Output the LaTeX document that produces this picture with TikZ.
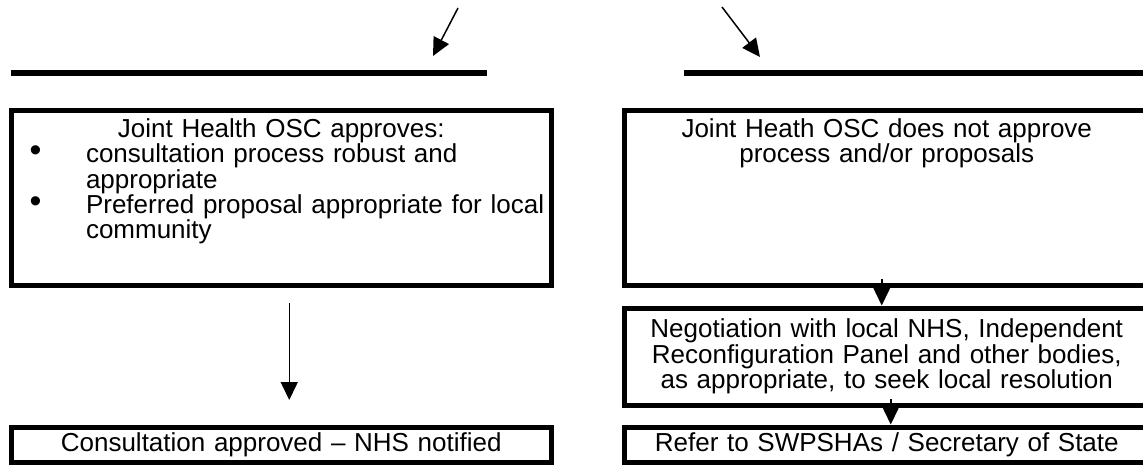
\documentclass[tikz,border=0pt]{standalone}
\usepackage{fontspec}
\setmainfont{Liberation Sans}
\usetikzlibrary{arrows.meta}
\usetikzlibrary{positioning}

\newcommand{\itembul}[1]{\makebox[74.5pt][l]{\hspace{18pt}\raisebox{1pt}{\scalebox{1.3}{\textbullet}}}\parbox[t]{460pt}{#1}}

\begin{document}
\begin{tikzpicture}[x=1pt,y=-1pt,
  box/.style={draw,line width=5pt,inner sep=0pt,outer sep=0pt,anchor=north west,
    font=\fontsize{26}{25.5}\selectfont},
  arr/.style={-{Triangle[length=18pt,width=17pt]},line width=1.5pt},
  bar/.style={line width=6pt}]
  \useasboundingbox (0,0) rectangle (1143,467);

  \node[box,text width=539.5pt,align=left,text height=27pt,text depth=148pt] (approve) at (11.5,110)
    {{\centering Joint Health OSC approves:\par}
     \noindent\itembul{consultation process robust and\\ appropriate}\par
     \noindent\itembul{Preferred proposal appropriate for local\\ community}};
  \node[box,text width=525.5pt,align=center,text height=27pt,text depth=148pt] (reject) [right=73pt of approve.north east,anchor=north west]
    {Joint Heath OSC does not approve\\ process and/or proposals};
  \node[box,text width=525.5pt,align=center,minimum height=97pt] (negotiate) [below=23pt of reject.south west,anchor=north west]
    {Negotiation with local NHS, Independent\\ Reconfiguration Panel and other bodies,\\ as appropriate, to seek local resolution};
  \node[box,text width=525.5pt,align=center,minimum height=35pt] (refer) [below=22pt of negotiate.south west,anchor=north west]
    {Refer to SWPSHAs / Secretary of State};
  \node[box,text width=539.5pt,align=center,minimum height=35pt] (approved) [below=142pt of approve.south west,anchor=north west]
    {Consultation approved -- NHS notified};

  \coordinate (yesfrom) at (458,8);
  \coordinate (yesto) at (433,56);
  \coordinate (nofrom) at (722,7);
  \coordinate (noto) at (760,57);

  \draw[bar] (11,73) -- (487,73);
  \draw[bar] (684,73) -- (1160,73);

  \path[arr] (yesfrom) edge (yesto)
    (nofrom) edge (noto)
    ([xshift=8pt,yshift=-18pt]approve.south) edge ([xshift=8pt,yshift=27pt]approved.north)
    ([xshift=-5pt,yshift=6pt]reject.south) edge ([xshift=-5pt,yshift=2.5pt]negotiate.north)
    ([xshift=4pt,yshift=6pt]negotiate.south) edge ([xshift=4pt,yshift=2.5pt]refer.north);
\end{tikzpicture}
\end{document}
